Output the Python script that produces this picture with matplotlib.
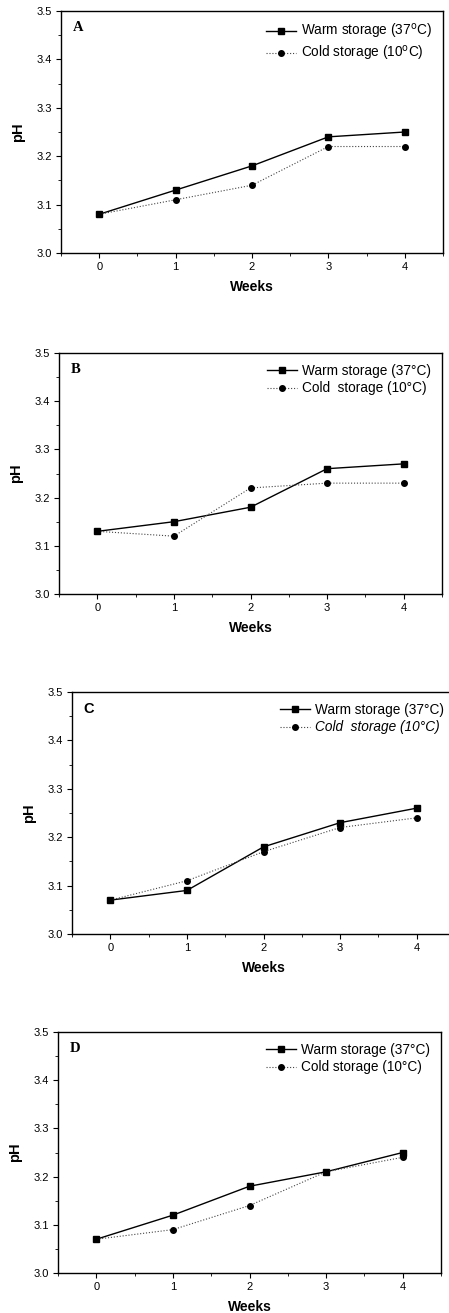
import matplotlib.pyplot as plt
from matplotlib.ticker import MultipleLocator

weeks = [0, 1, 2, 3, 4]

warm_A = [3.08, 3.13, 3.18, 3.24, 3.25]
cold_A = [3.08, 3.11, 3.14, 3.22, 3.22]
warm_B = [3.13, 3.15, 3.18, 3.26, 3.27]
cold_B = [3.13, 3.12, 3.22, 3.23, 3.23]
warm_C = [3.07, 3.09, 3.18, 3.23, 3.26]
cold_C = [3.07, 3.11, 3.17, 3.22, 3.24]
warm_D = [3.07, 3.12, 3.18, 3.21, 3.25]
cold_D = [3.07, 3.09, 3.14, 3.21, 3.24]

letters = ['A', 'B', 'C', 'D']
warm_labels = [r'Warm storage (37$^{\mathrm{o}}$C)', 'Warm storage (37\u00b0C)',
               'Warm storage (37\u00b0C)', 'Warm storage (37\u00b0C)']
cold_labels = [r'Cold storage (10$^{\mathrm{o}}$C)', 'Cold  storage (10\u00b0C)',
               'Cold  storage (10\u00b0C)', 'Cold storage (10\u00b0C)']

plt.rcParams['font.family'] = ['Liberation Sans', 'DejaVu Sans']

W, H = 449, 1313
fig = plt.figure(figsize=(W / 100, H / 100), dpi=100)

# pixel boxes: left, right, top, bottom
boxes = [(61, 443, 11, 253), (59, 442, 353, 594), (72, 455, 692, 934), (58, 441, 1032, 1273)]
data = [(warm_A, cold_A), (warm_B, cold_B), (warm_C, cold_C), (warm_D, cold_D)]

for i in range(4):
    l, r, t, b = boxes[i]
    ax = fig.add_axes([l / W, 1 - b / H, (r - l) / W, (b - t) / H])
    warm, cold = data[i]
    ax.plot(weeks, warm, color='black', lw=1.0, marker='s', ms=4, label=warm_labels[i])
    ax.plot(weeks, cold, color='#444444', lw=0.8, ls=':', marker='o', ms=4,
            mfc='black', mec='black', label=cold_labels[i])
    ax.set_xlim(-0.5, 4.5)
    ax.set_ylim(3.0, 3.5)
    ax.xaxis.set_major_locator(MultipleLocator(1))
    ax.xaxis.set_minor_locator(MultipleLocator(0.5))
    ax.yaxis.set_major_locator(MultipleLocator(0.1))
    ax.yaxis.set_minor_locator(MultipleLocator(0.05))
    ax.tick_params(which='major', direction='out', length=3.5, width=0.8, labelsize=8, pad=3)
    ax.tick_params(which='minor', direction='out', length=2, width=0.6)
    for s in ax.spines.values():
        s.set_linewidth(1.0)
    ax.set_xlabel('Weeks', fontsize=10, fontweight='bold', labelpad=6)
    ax.set_ylabel('pH', fontsize=10.5, fontweight='bold', labelpad=8)
    if letters[i] == 'C':
        ax.text(0.03, 0.93, letters[i], transform=ax.transAxes, fontsize=10.5,
                fontweight='bold', va='center')
    else:
        ax.text(0.03, 0.93, letters[i], transform=ax.transAxes, fontsize=10.5,
                fontweight='bold', family='Liberation Serif', va='center')
    leg = ax.legend(loc='upper right', frameon=False, fontsize=9.8,
                    handlelength=2.2, handletextpad=0.4, labelspacing=0.25,
                    borderaxespad=0.4)
    if i == 2:
        leg.get_texts()[1].set_style('italic')

fig.savefig('out.png', dpi=100)
